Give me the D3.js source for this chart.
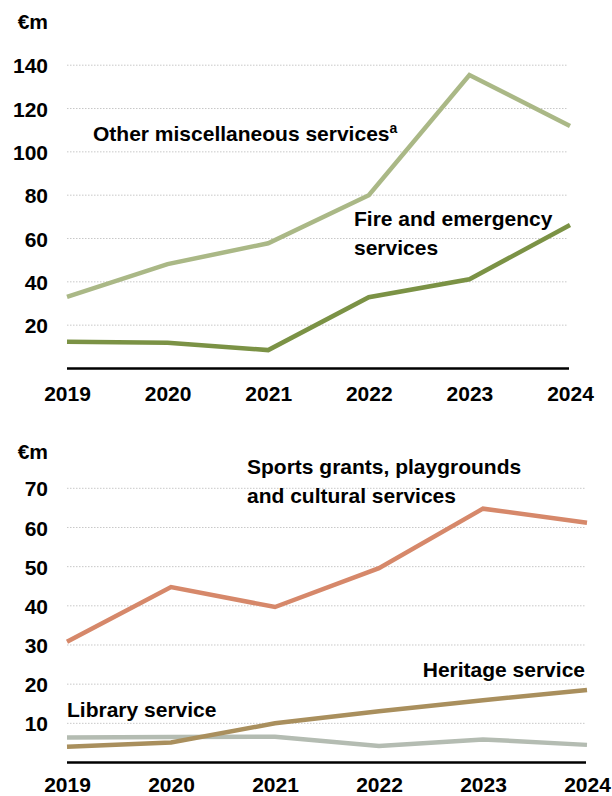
<!DOCTYPE html>
<html><head><meta charset="utf-8">
<script src="https://cdn.jsdelivr.net/npm/d3@7"></script>
<style>
body{margin:0;background:#fff;}
text{font-family:"Liberation Sans",Arial,sans-serif;font-weight:bold;fill:#000;}
</style></head>
<body><svg id="c" width="612" height="796"></svg>
<script>
const years = [2019, 2020, 2021, 2022, 2023, 2024];
const topTicks = [20, 40, 60, 80, 100, 120, 140];
const bottomTicks = [10, 20, 30, 40, 50, 60, 70];
const otherMisc = [33.1, 48.2, 57.8, 80.0, 135.5, 111.9];
const fireEmergency = [12.4, 11.9, 8.5, 32.9, 41.2, 66.2];
const sportsCultural = [30.8, 44.8, 39.7, 49.6, 64.8, 61.2];
const heritage = [4.0, 5.1, 10.0, 13.1, 15.9, 18.5];
const library = [6.4, 6.5, 6.6, 4.2, 5.9, 4.5];

const svg = d3.select("#c");
const fs = 21;

function panel(cfg) {
  const g = svg.append("g");
  const x = d3.scalePoint().domain(years).range([cfg.x0, cfg.x1]);
  const y = d3.scaleLinear().domain([0, cfg.ymax]).range([cfg.y0, cfg.ytop]);
  g.selectAll("line.grid").data(cfg.ticks).enter().append("line")
    .attr("x1", cfg.x0).attr("x2", cfg.x1 - 2)
    .attr("y1", d => y(d)).attr("y2", d => y(d))
    .attr("stroke", "#c8c8c8").attr("stroke-width", 1).attr("stroke-dasharray", "1.5,1.5");
  const ya = d3.axisLeft(y).tickValues(cfg.ticks).tickSize(0).tickPadding(0);
  const yg = g.append("g").attr("transform", `translate(${cfg.ylabX},0)`).call(ya);
  yg.select(".domain").remove();
  yg.selectAll("text").style("font-size", fs + "px").attr("font-family", null).attr("dy", "0.36em");
  g.append("text").attr("x", cfg.ylabX).attr("y", cfg.unitY).attr("text-anchor", "end")
    .style("font-size", fs + "px").text("€m");
  const xa = d3.axisBottom(x).tickSize(0).tickPadding(0);
  const xg = g.append("g").attr("transform", `translate(0,${cfg.y0})`).call(xa);
  xg.select(".domain").remove();
  xg.selectAll("text").style("font-size", fs + "px").attr("font-family", null)
    .attr("dy", null).attr("y", cfg.xlabDy);
  g.append("line").attr("x1", cfg.x0).attr("x2", cfg.x1 - 1).attr("y1", cfg.y0).attr("y2", cfg.y0)
    .attr("stroke", "#000").attr("stroke-width", 2.5);
  const line = d3.line().x((d, i) => x(years[i])).y(d => y(d));
  cfg.series.forEach(s => {
    g.append("path").datum(s.values).attr("d", line).attr("fill", "none")
      .attr("stroke", s.color).attr("stroke-width", 4.5).attr("stroke-linejoin", "miter");
  });
  return g;
}

panel({x0: 67, x1: 570, y0: 368.5, ytop: 65.2, ymax: 140, ticks: topTicks,
  ylabX: 48, unitY: 29, xlabDy: 32,
  series: [{values: otherMisc, color: "#aab886"}, {values: fireEmergency, color: "#7b9245"}]});
panel({x0: 67, x1: 587, y0: 762.5, ytop: 488.3, ymax: 70, ticks: bottomTicks,
  ylabX: 48, unitY: 459, xlabDy: 29,
  series: [{values: library, color: "#b4bcb2"}, {values: heritage, color: "#a98f5d"}, {values: sportsCultural, color: "#d6886a"}]});

function label(x, y, lines, anchor) {
  lines.forEach((l, i) => {
    svg.append("text").attr("x", x).attr("y", y[i]).attr("text-anchor", anchor || "start")
      .style("font-size", fs + "px").text(l);
  });
}
const om = svg.append("text").attr("x", 93).attr("y", 141).style("font-size", fs + "px");
om.append("tspan").text("Other miscellaneous services");
om.append("tspan").attr("dy", -8).style("font-size", "14px").text("a");
label(354, [226, 255], ["Fire and emergency", "services"]);
label(247, [474, 503], ["Sports grants, playgrounds", "and cultural services"]);
label(585, [677], ["Heritage service"], "end");
label(67, [717], ["Library service"]);
</script></body></html>
